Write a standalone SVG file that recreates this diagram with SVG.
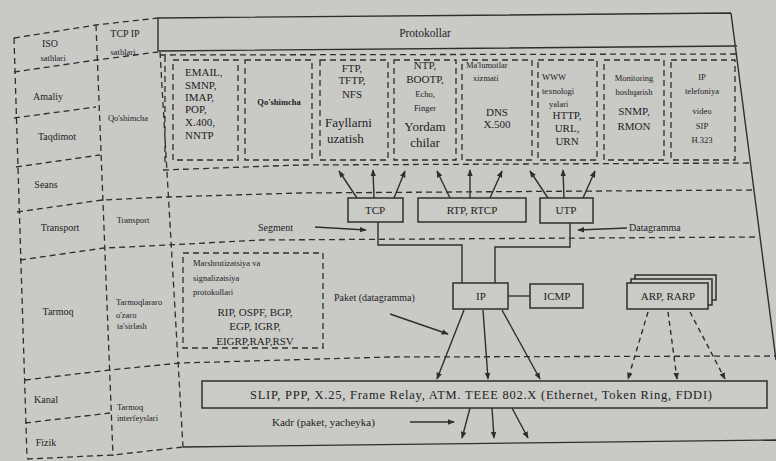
<svg xmlns="http://www.w3.org/2000/svg" width="776" height="461" viewBox="0 0 776 461">
<style>
.d{fill:none;stroke:#2e2e2e;stroke-width:1.3;stroke-dasharray:6 4}
.s{fill:none;stroke:#2e2e2e;stroke-width:1.4}
.b{fill:#cacac7;stroke:#2e2e2e;stroke-width:1.5}
.a{fill:none;stroke:#2e2e2e;stroke-width:1.4;marker-end:url(#ah)}
.ad{fill:none;stroke:#2e2e2e;stroke-width:1.4;stroke-dasharray:5 4;marker-end:url(#ah)}
text{font-family:"Liberation Serif","DejaVu Serif",serif;fill:#1e1e1e}
.sm{font-size:8.5px}
.lb{font-size:10px}
.ap{font-size:11px}
.lg{font-size:13px}
.m{text-anchor:middle}
</style>
<defs>
<marker id="ah" viewBox="0 0 10 10" refX="9" refY="5" markerWidth="7" markerHeight="7" orient="auto" markerUnits="userSpaceOnUse">
<path d="M0,1 L10,5 L0,9 z" fill="#2e2e2e"/>
</marker>
</defs>
<rect width="776" height="461" fill="#c9c9c6"/>

<g id="frame">
<path class="s" d="M158,18 L731,13 M158,51 L737,46 M158,18 L158,51 M731,13 L776,360"/>
<path class="s" d="M183,447 L776,440"/>
<path class="d" d="M14,38 L96,25 L158,18 M14,72 L96,60 L158,52 M14,118 L96,107 M16,167 L100,155 M17,212 L102,200 L167,197 L300,193 L753,190 M20,260 L104,248 L168,245 L260,240 L758,237 M25,380 L110,370 L180,363 L390,357 L776,356 M25,423 L110,413 M27,459 L113,455 L183,447"/>
<path class="d" d="M14,38 L27,458 M96,25 L113,456 M160,52 L183,447 M165,56 L165,166"/>
<path class="d" d="M160,55 L737,54 M163,170 L300,165 L750,163"/>
</g>

<g id="header"><text x="425" y="37" class="m" style="font-size:11.5px">Protokollar</text></g>

<g id="left-labels">
<text x="50" y="47" class="m lb">ISO</text>
<text x="53" y="61" class="m sm">sathlari</text>
<text x="125" y="37" class="m lb">TCP IP</text>
<text x="123" y="55" class="m sm">sathlari</text>
<text x="48" y="100" class="m lb">Amaliy</text>
<text x="57" y="140" class="m lb">Taqdimot</text>
<text x="46" y="188" class="m lb">Seans</text>
<text x="60" y="231" class="m lb">Transport</text>
<text x="58" y="315" class="m lb">Tarmoq</text>
<text x="46" y="403" class="m lb">Kanal</text>
<text x="46" y="446" class="m lb">Fizik</text>
<text x="128" y="121" class="m sm">Qo'shimcha</text>
<text x="133" y="223" class="m sm">Transport</text>
<text x="116" y="305" class="sm">Tarmoqlararo</text>
<text x="116" y="318" class="sm">o'zaro</text>
<text x="117" y="329" class="sm">ta'sirlash</text>
<text x="117" y="410" class="sm">Tarmoq</text>
<text x="117" y="421" class="sm">interfeyslari</text>
</g>

<g id="app1"><rect class="d" x="173" y="60" width="65" height="100"/>
<text class="ap" x="185" y="76">EMAIL,</text><text class="ap" x="185" y="89">SMNP,</text><text class="ap" x="185" y="101">IMAP,</text><text class="ap" x="185" y="113">POP,</text><text class="ap" x="185" y="126">X.400,</text><text class="ap" x="185" y="139">NNTP</text></g>
<g id="app2"><rect class="d" x="245" y="60" width="67" height="100"/>
<text class="sm m" x="279" y="105" style="font-weight:bold">Qo'shimcha</text></g>
<g id="app3"><rect class="d" x="320" y="60" width="68" height="100"/>
<text class="ap m" x="352" y="72">FTP,</text><text class="ap m" x="352" y="84">TFTP,</text><text class="ap m" x="352" y="98">NFS</text>
<text class="lg" x="325" y="127">Fayllarni</text><text class="lg" x="327" y="143">uzatish</text></g>
<g id="app4"><rect class="d" x="394" y="60" width="62" height="100"/>
<text class="ap m" x="425" y="69">NTP,</text><text class="ap m" x="425" y="83">BOOTP,</text><text class="sm m" x="425" y="97">Echo,</text><text class="sm m" x="425" y="111">Finger</text>
<text class="lg m" x="425" y="131">Yordam</text><text class="lg m" x="425" y="147">chilar</text></g>
<g id="app5"><rect class="d" x="462" y="60" width="70" height="100"/>
<text class="sm" x="466" y="68">Ma'lumotlar</text><text class="sm" x="473" y="81">xizmati</text>
<text class="ap m" x="497" y="116">DNS</text><text class="ap m" x="497" y="128">X.500</text></g>
<g id="app6"><rect class="d" x="538" y="60" width="59" height="100"/>
<text class="sm" x="542" y="80">WWW</text><text class="sm" x="542" y="94">texnologi</text><text class="sm" x="549" y="107">yalari</text>
<text class="ap m" x="567" y="119">HTTP,</text><text class="ap m" x="567" y="132">URL,</text><text class="ap m" x="567" y="145">URN</text></g>
<g id="app7"><rect class="d" x="604" y="60" width="60" height="100"/>
<text class="sm m" x="634" y="81">Monitoring</text><text class="sm m" x="634" y="95">boshqarish</text>
<text class="ap m" x="634" y="115">SNMP,</text><text class="ap m" x="634" y="130">RMON</text></g>
<g id="app8"><rect class="d" x="671" y="60" width="64" height="100"/>
<text class="sm m" x="702" y="80">IP</text><text class="sm m" x="702" y="94">telefoniya</text>
<text class="sm m" x="702" y="114">video</text><text class="sm m" x="702" y="129">SIP</text><text class="sm m" x="702" y="143">H.323</text></g>

<g id="connectors">
<path class="a" d="M357,198 L339,171"/><path class="a" d="M374,198 L373,170"/><path class="a" d="M394,198 L405,171"/>
<path class="a" d="M450,198 L437,171"/><path class="a" d="M470,198 L470,170"/><path class="a" d="M490,198 L502,171"/>
<path class="a" d="M548,198 L530,171"/><path class="a" d="M564,198 L563,170"/><path class="a" d="M583,198 L595,171"/>
<path class="s" d="M378,222 L378,245 L462,245 L462,283"/>
<path class="s" d="M570,223 L570,247 L495,247 L495,283"/>
<path class="s" d="M508,296 L530,296"/>
<path class="a" d="M315,227 L366,230"/>
<path class="a" d="M627,228 L578,230"/>
<path class="a" d="M390,314 L448,334"/>
<path class="a" d="M464,310 L437,379"/><path class="a" d="M483,310 L488,379"/><path class="a" d="M502,310 L540,379"/>
<path class="ad" d="M648,312 L628,379"/><path class="ad" d="M668,312 L677,379"/><path class="ad" d="M690,312 L725,379"/>
<path class="a" d="M470,408 L462,438"/><path class="a" d="M492,408 L494,438"/><path class="a" d="M512,408 L528,438"/>
<path class="a" d="M410,422 L454,422"/>
</g>

<g id="tcp"><rect class="b" x="348" y="198" width="55" height="24"/><text class="ap m" x="375" y="214">TCP</text></g>
<g id="rtp"><rect class="b" x="418" y="198" width="108" height="24"/><text class="ap m" x="472" y="214">RTP, RTCP</text></g>
<g id="utp"><rect class="b" x="540" y="198" width="53" height="25"/><text class="ap m" x="566" y="214">UTP</text></g>
<g id="segment"><text class="lb" x="258" y="231">Segment</text></g>
<g id="datagramma"><text class="lb" x="629" y="231">Datagramma</text></g>
<g id="routing"><rect class="d" x="183" y="253" width="140" height="95"/>
<text class="sm" x="193" y="266">Marshrutizatsiya va</text><text class="sm" x="193" y="281">signalizatsiya</text><text class="sm" x="193" y="295">protokollari</text>
<text class="ap m" x="255" y="316">RIP, OSPF, BGP,</text><text class="ap m" x="255" y="330">EGP, IGRP,</text><text class="ap m" x="255" y="345">EIGRP,RAP,RSV</text></g>
<g id="paket"><text class="lb" x="334" y="301">Paket (datagramma)</text></g>
<g id="ip"><rect class="b" x="453" y="283" width="55" height="26"/><text class="ap m" x="481" y="300">IP</text></g>
<g id="icmp"><rect class="b" x="530" y="284" width="53" height="24"/><text class="ap m" x="557" y="300">ICMP</text></g>
<g id="arp"><rect class="b" x="635" y="275" width="81" height="25"/><rect class="b" x="631" y="279" width="81" height="26"/><rect class="b" x="627" y="283" width="81" height="26"/><text class="ap m" x="668" y="300">ARP, RARP</text></g>
<g id="slip"><rect class="b" x="202" y="381" width="565" height="27"/>
<text x="250" y="399" style="font-size:12.5px" textLength="462" lengthAdjust="spacing">SLIP, PPP, X.25, Frame Relay, ATM. TEEE 802.X (Ethernet, Token Ring, FDDI)</text></g>
<g id="kadr"><text class="ap" x="272" y="426">Kadr (paket, yacheyka)</text></g>
</svg>
